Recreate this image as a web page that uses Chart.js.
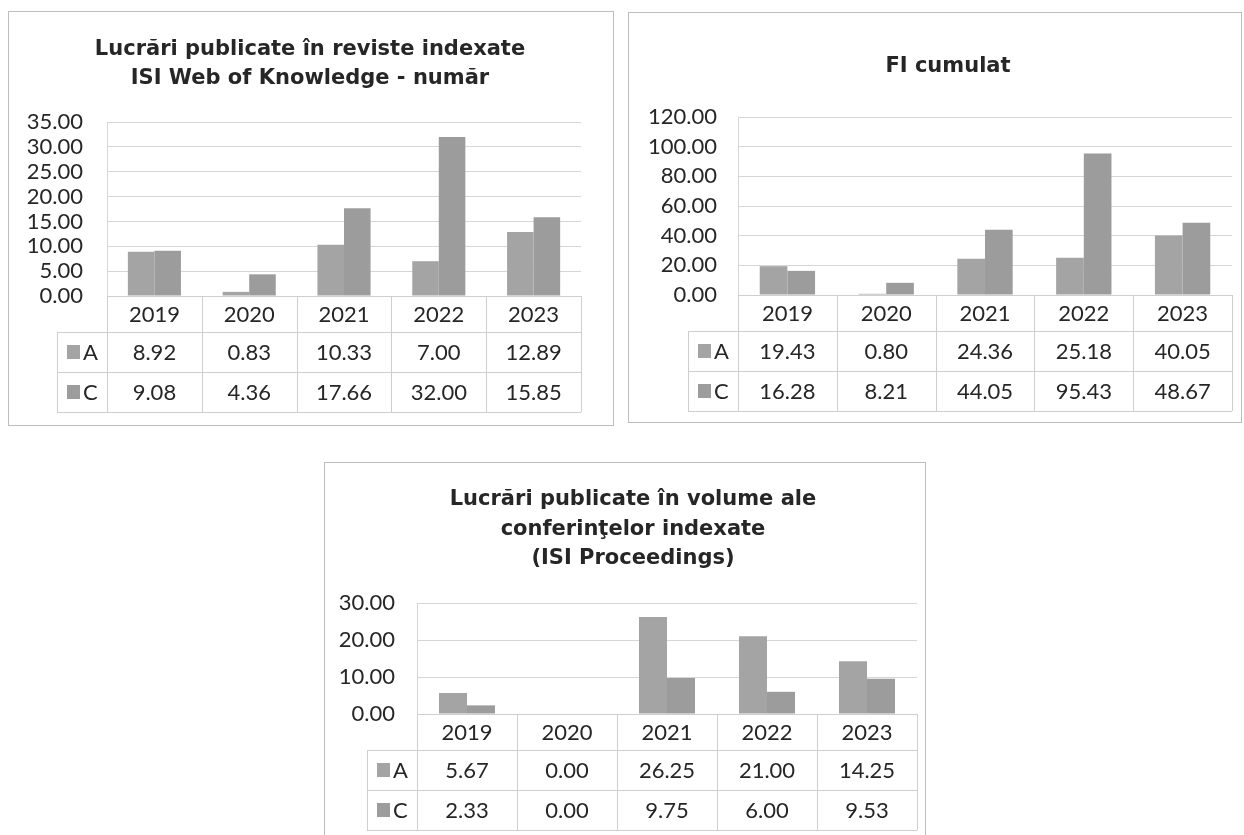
<!DOCTYPE html>
<html>
<head>
<meta charset="utf-8">
<script src="https://cdn.jsdelivr.net/npm/chart.js@4.4.0/dist/chart.umd.min.js"></script>
<style>
    body { margin: 0; width: 1244px; height: 835px; background: #fff; overflow: hidden; position: relative; }
    .box { position: absolute; border: 1px solid #bdbdbd; background: #fff; }
    canvas { display: block; }
</style>
</head>
<body>
<div class="box" style="left:8px;top:11px;width:604px;height:413px"><canvas id="isi"></canvas></div>
<div class="box" style="left:628px;top:12px;width:612px;height:409px"><canvas id="fi"></canvas></div>
<div class="box" style="left:324px;top:462px;width:600px;height:380px"><canvas id="proc"></canvas></div>
<script>
// data
const years = ['2019', '2020', '2021', '2022', '2023'];
const seriesNames = ['A', 'C'];

const isiA = [8.92, 0.83, 10.33, 7.00, 12.89];
const isiC = [9.08, 4.36, 17.66, 32.00, 15.85];

const fiA = [19.43, 0.80, 24.36, 25.18, 40.05];
const fiC = [16.28, 8.21, 44.05, 95.43, 48.67];

const procA = [5.67, 0.00, 26.25, 21.00, 14.25];
const procC = [2.33, 0.00, 9.75, 6.00, 9.53];

// y axis ranges (max, step)
const isiAxis = [35, 5];
const fiAxis = [120, 20];
const procAxis = [30, 10];

const isiTitle = ['Lucrări publicate în reviste indexate', 'ISI Web of Knowledge - număr'];
const fiTitle = ['FI cumulat'];
const procTitle = ['Lucrări publicate în volume ale', 'conferinţelor indexate', '(ISI Proceedings)'];

const textColor = '#262626';
const barColors = ['#a4a4a4', '#9c9c9c'];

// chart title, centred where the scan has it (not on the canvas middle)
const titleText = {
    id: 'titleText',
    afterDraw(chart, args, opts) {
        let ctx = chart.ctx;
        ctx.save();
        ctx.font = 'bold 21px "DejaVu Sans"';
        ctx.fillStyle = textColor;
        ctx.textAlign = 'center';
        ctx.textBaseline = 'middle';
        opts.lines.forEach(function (t, i) {
            ctx.fillText(t, opts.x, opts.y + i * opts.lh);
        });
        ctx.restore();
    }
};

// draws the data table under the plot, columns follow the x scale
const dataTable = {
    id: 'dataTable',
    afterDraw(chart) {
        let ctx = chart.ctx;
        let x = chart.scales.x;
        let a = chart.chartArea;
        let n = chart.data.labels.length;
        let w = (a.right - a.left) / n;
        let yearRow = 36, dataRow = 40, legW = 50;
        let r1 = a.bottom + yearRow;
        let r2 = r1 + dataRow;
        let r3 = r2 + dataRow;
        let legL = a.left - legW;

        ctx.save();
        ctx.strokeStyle = '#cfcfcf';
        ctx.lineWidth = 1;
        ctx.beginPath();
        ctx.moveTo(a.left, Math.round(a.bottom) + 0.5);
        ctx.lineTo(a.right, Math.round(a.bottom) + 0.5);
        [r1, r2, r3].forEach(function (yy) {
            ctx.moveTo(legL, Math.round(yy) + 0.5);
            ctx.lineTo(a.right, Math.round(yy) + 0.5);
        });
        ctx.moveTo(Math.round(legL) + 0.5, r1);
        ctx.lineTo(Math.round(legL) + 0.5, r3);
        for (let i = 0; i <= n; i++) {
            let bx = Math.round(x.getPixelForValue(i) - w / 2) + 0.5;
            ctx.moveTo(bx, a.bottom);
            ctx.lineTo(bx, r3);
        }
        ctx.stroke();

        ctx.font = '22px Lato';
        ctx.fillStyle = textColor;
        ctx.textAlign = 'center';
        ctx.textBaseline = 'middle';
        for (let i = 0; i < n; i++) {
            let cx = x.getPixelForValue(i);
            ctx.fillText(chart.data.labels[i], cx, a.bottom + yearRow / 2 + 1);
            chart.data.datasets.forEach(function (ds, d) {
                ctx.fillText(ds.data[i].toFixed(2), cx, r1 + dataRow * (d + 0.5) + 1);
            });
        }
        // legend keys
        chart.data.datasets.forEach(function (ds, d) {
            let cy = r1 + dataRow * (d + 0.5);
            ctx.fillStyle = ds.backgroundColor;
            ctx.fillRect(legL + 10, cy - 7, 13, 14);
            ctx.fillStyle = textColor;
            ctx.textAlign = 'left';
            ctx.fillText(ds.label, legL + 26, cy + 1);
        });
        ctx.restore();
    }
};

function makeChart(id, A, C, axis, title, titlePos, pad, tickPad) {
    let ctx = document.getElementById(id).getContext('2d');
    return new Chart(ctx, {
        type: 'bar',
        data: {
            labels: years,
            datasets: [
                { label: seriesNames[0], data: A, backgroundColor: barColors[0] },
                { label: seriesNames[1], data: C, backgroundColor: barColors[1] }
            ]
        },
        options: {
            responsive: true,
            maintainAspectRatio: false,
            animation: false,
            categoryPercentage: 0.56,
            barPercentage: 1.0,
            layout: { padding: { left: 0, right: pad.right, top: pad.top, bottom: pad.bottom } },
            plugins: {
                legend: { display: false },
                tooltip: { enabled: false },
                title: { display: false },
                titleText: { lines: title, x: titlePos[0], y: titlePos[1], lh: titlePos[2] }
            },
            scales: {
                x: { display: false },
                y: {
                    min: 0,
                    max: axis[0],
                    afterFit: function (s) { s.width = pad.left; },
                    grid: { color: '#d6d6d6', drawTicks: false },
                    border: { display: true, color: '#d6d6d6' },
                    ticks: {
                        stepSize: axis[1],
                        autoSkip: false,
                        padding: tickPad,
                        color: textColor,
                        font: { family: 'Lato', size: 22 },
                        callback: function (v) { return v.toFixed(2); }
                    }
                }
            }
        },
        plugins: [titleText, dataTable]
    });
}

makeChart('isi', isiA, isiC, isiAxis, isiTitle, [301, 38, 29],
    { left: 98, right: 32, top: 110, bottom: 129 }, 24);
makeChart('fi', fiA, fiC, fiAxis, fiTitle, [319, 54, 29],
    { left: 109, right: 9, top: 104, bottom: 127 }, 21);
makeChart('proc', procA, procC, procAxis, procTitle, [308, 37, 29.5],
    { left: 92, right: 8, top: 140, bottom: 129 }, 22);
</script>
</body>
</html>
